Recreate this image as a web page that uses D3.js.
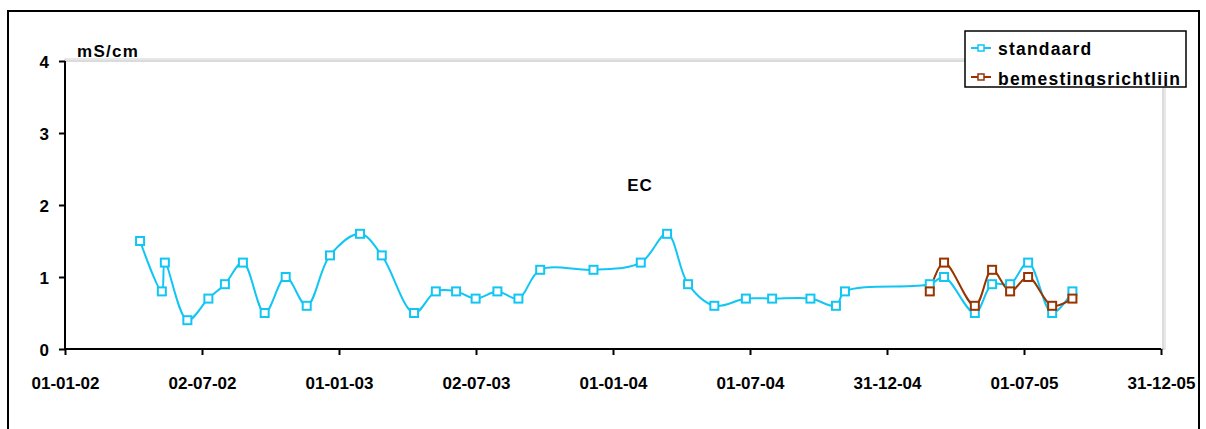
<!DOCTYPE html>
<html><head><meta charset="utf-8">
<script src="https://cdn.jsdelivr.net/npm/d3@7"></script>
<style>
html,body{margin:0;padding:0;background:#fff;}
svg{display:block;}
text{font-family:"Liberation Sans",Arial,sans-serif;font-weight:bold;fill:#000;}
</style></head>
<body>
<svg id="c" width="1206" height="429"></svg>
<script>
// ---- data ----
const standaardDates = ["2002-04-11","2002-05-10","2002-05-14","2002-06-13","2002-07-11","2002-08-02","2002-08-26","2002-09-24","2002-10-22","2002-11-19","2002-12-20","2003-01-29","2003-02-27","2003-04-11","2003-05-10","2003-06-06","2003-07-02","2003-07-31","2003-08-28","2003-09-26","2003-12-06","2004-02-07","2004-03-13","2004-04-10","2004-05-15","2004-06-26","2004-07-31","2004-09-20","2004-10-24","2004-11-05","2005-02-26","2005-03-17","2005-04-27","2005-05-20","2005-06-13","2005-07-07","2005-08-08","2005-09-04"];
const standaardValues = [1.5,0.8,1.2,0.4,0.7,0.9,1.2,0.5,1.0,0.6,1.3,1.6,1.3,0.5,0.8,0.8,0.7,0.8,0.7,1.1,1.1,1.2,1.6,0.9,0.6,0.7,0.7,0.7,0.6,0.8,0.9,1.0,0.5,0.9,0.9,1.2,0.5,0.8];
const bemestingDates = ["2005-02-26","2005-03-17","2005-04-27","2005-05-20","2005-06-13","2005-07-07","2005-08-08","2005-09-04"];
const bemestingValues = [0.8,1.2,0.6,1.1,0.8,1.0,0.6,0.7];
const xTickLabels = ["01-01-02","02-07-02","01-01-03","02-07-03","01-01-04","01-07-04","31-12-04","01-07-05","31-12-05"];
const yTicks = [0,1,2,3,4];
const seriesNames = ["standaard","bemestingsrichtlijn"];
const seriesColors = ["#12c6f4","#993300"];
const unitLabel = "mS/cm";
const chartTitle = "EC";

// ---- drawing ----
const parse = d3.utcParse("%Y-%m-%d");
const svg = d3.select("#c");
const L = 65, R = 1161, T = 61, B = 349;
const start = parse("2002-01-01"), end = parse("2005-12-31");
const x = d3.scaleUtc().domain([start, end]).range([L, R]);
const y = d3.scaleLinear().domain([0, 4]).range([B, T]);

// outer border
svg.append("rect").attr("x",8).attr("y",11).attr("width",1191).attr("height",440)
  .attr("fill","none").attr("stroke","#000").attr("stroke-width",2);

// plot area border (grey, double)
svg.append("rect").attr("x",L).attr("y",T-2).attr("width",R-L+4).attr("height",B-T+2)
  .attr("fill","none").attr("stroke","#d0d0d0").attr("stroke-width",1);
svg.append("rect").attr("x",L).attr("y",T).attr("width",R-L+2).attr("height",B-T)
  .attr("fill","none").attr("stroke","#b8b8b8").attr("stroke-width",1);

// y axis
const yAxis = d3.axisLeft(y).tickValues(yTicks).tickSize(6).tickFormat(d3.format("d"));
const gy = svg.append("g").attr("transform",`translate(${L},0)`).call(yAxis);
gy.select(".domain").attr("stroke","#000").attr("stroke-width",2).attr("d",`M0,${T}V${B}`);
gy.selectAll(".tick line").attr("stroke","#000").attr("stroke-width",2);
gy.selectAll(".tick text").attr("x",-16).attr("dy","0.36em").style("font-size","17px")
  .style("font-family","'Liberation Sans',Arial,sans-serif").style("font-weight","bold");

// x axis
const tickDates = xTickLabels.map((_,i)=> new Date(start.getTime() + i*182.5*86400000));
const xAxis = d3.axisBottom(x).tickValues(tickDates).tickSize(6).tickFormat((d,i)=>xTickLabels[i]);
const gx = svg.append("g").attr("transform",`translate(0,${B})`).call(xAxis);
gx.select(".domain").attr("stroke","#000").attr("stroke-width",2).attr("d",`M${L},0H${R}`);
gx.selectAll(".tick line").attr("stroke","#000").attr("stroke-width",2);
gx.selectAll(".tick text").attr("y",28).attr("dy","0.71em").style("font-size","17px")
  .style("font-family","'Liberation Sans',Arial,sans-serif").style("font-weight","bold");

// labels
svg.append("text").attr("x",77).attr("y",57).style("font-size","17px").style("letter-spacing","1.3px").text(unitLabel);
svg.append("text").attr("x",640).attr("y",191).attr("text-anchor","middle").style("font-size","17px").style("letter-spacing","1px").text(chartTitle);

// series
const series = [
  {name:seriesNames[0], color:seriesColors[0], data: standaardDates.map((d,i)=>({date:parse(d), v:standaardValues[i]}))},
  {name:seriesNames[1], color:seriesColors[1], data: bemestingDates.map((d,i)=>({date:parse(d), v:bemestingValues[i]}))}
];
const line = d3.line().x(d=>x(d.date)).y(d=>y(d.v)).curve(d3.curveCatmullRom.alpha(0.5));
series.forEach(s=>{
  svg.append("path").datum(s.data).attr("d",line).attr("fill","none")
    .attr("stroke",s.color).attr("stroke-width",2);
});
series.forEach(s=>{
  svg.append("g").selectAll("rect").data(s.data).join("rect")
    .attr("x",d=>x(d.date)-4).attr("y",d=>y(d.v)-4).attr("width",8).attr("height",8)
    .attr("fill","#fff").attr("stroke",s.color).attr("stroke-width",2);
});

// legend
const lg = svg.append("g");
lg.append("clipPath").attr("id","lgclip").append("rect").attr("x",965).attr("y",31).attr("width",221).attr("height",55);
lg.append("rect").attr("x",965).attr("y",31).attr("width",221).attr("height",56)
  .attr("fill","#fff").attr("stroke","#000").attr("stroke-width",1.5);
series.forEach((s,i)=>{
  const cy = 48 + i*29;
  lg.append("line").attr("x1",971).attr("x2",991).attr("y1",cy).attr("y2",cy).attr("stroke",s.color).attr("stroke-width",2);
  lg.append("rect").attr("x",978).attr("y",cy-3).attr("width",6).attr("height",6)
    .attr("fill","#fff").attr("stroke",s.color).attr("stroke-width",1.5);
  lg.append("text").attr("x",998).attr("y",cy+7 + i).attr("clip-path","url(#lgclip)")
    .style("font-size","17.5px").style("letter-spacing","1.2px").text(s.name);
});
</script>
</body></html>
